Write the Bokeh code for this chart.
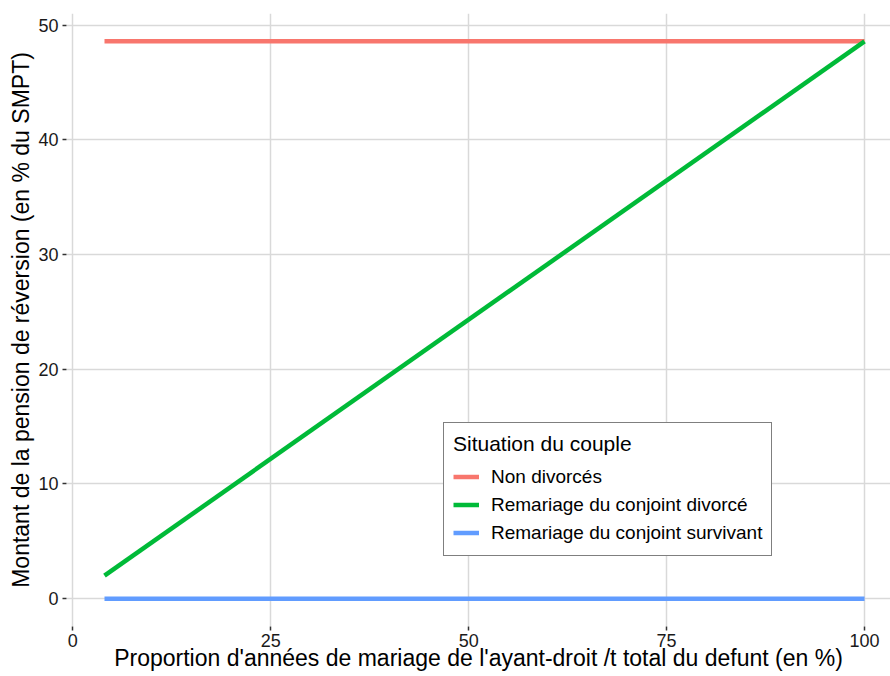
from bokeh.plotting import figure
from bokeh.models import ColumnDataSource, Legend, LegendItem, FixedTicker, Range1d
from bokeh.embed import file_html
from bokeh.resources import INLINE

# Data
proportion = [4, 100]
non_divorces = [48.6, 48.6]
remariage_divorce = [2.0, 48.6]
remariage_survivant = [0.0, 0.0]
series_names = ["Non divorcés", "Remariage du conjoint divorcé", "Remariage du conjoint survivant"]
series_colors = ["#F8766D", "#00BA38", "#619CFF"]
x_ticks = [0, 25, 50, 75, 100]
y_ticks = [0, 10, 20, 30, 40, 50]

FONT = "Liberation Sans"

p = figure(width=890, height=676, output_backend="svg", toolbar_location=None,
           x_range=Range1d(-0.8, 103.28), y_range=Range1d(-2.43, 51.03),
           min_border_left=66, min_border_top=13, min_border_right=0, min_border_bottom=50)
p.outline_line_color = None
p.background_fill_color = "white"

for ax, ticks in ((p.xaxis[0], x_ticks), (p.yaxis[0], y_ticks)):
    ax.ticker = FixedTicker(ticks=ticks)
    ax.axis_line_color = None
    ax.major_tick_line_color = "#333333"
    ax.major_tick_line_width = 1.5
    ax.major_tick_out = 4
    ax.major_tick_in = 0
    ax.minor_tick_line_color = None
    ax.major_label_text_font = FONT
    ax.major_label_text_font_size = "18px"
    ax.major_label_text_color = "#1A1A1A"
    ax.axis_label_text_font = FONT
    ax.axis_label_text_font_size = "23px"
    ax.axis_label_text_font_style = "normal"
    ax.axis_label_text_color = "black"

p.xaxis.axis_label = "Proportion d'années de mariage de l'ayant-droit /t total du defunt (en %)"
p.yaxis.axis_label = "Montant de la pension de réversion (en % du SMPT)"
p.xaxis.axis_label_standoff = -5
p.yaxis.axis_label_standoff = 1
p.xaxis.major_label_standoff = 3
p.yaxis.major_label_standoff = 4

for g in (p.xgrid[0], p.ygrid[0]):
    g.grid_line_color = "#D9D9D9"
    g.grid_line_width = 1.5
p.xgrid.ticker = FixedTicker(ticks=x_ticks)
p.ygrid.ticker = FixedTicker(ticks=y_ticks)

src = ColumnDataSource(dict(x=proportion, a=non_divorces, b=remariage_divorce, c=remariage_survivant))
bg = p.rect(x=[], y=[], width=[], height=[], fill_color="#EBEBEB", line_color=None)
lines = []
for col, color in zip(["a", "b", "c"], series_colors):
    r = p.line("x", col, source=src, line_color=color, line_width=4.5)
    lines.append(r)

items = [LegendItem(label=n, renderers=[bg, r]) for n, r in zip(series_names, lines)]
legend = Legend(items=items, location=(377, 70))
legend.title = "Situation du couple"
legend.title_text_font = FONT
legend.title_text_font_size = "21px"
legend.title_text_font_style = "normal"
legend.title_text_color = "black"
legend.title_standoff = 7
legend.label_text_font = FONT
legend.label_text_font_size = "19px"
legend.label_text_color = "black"
legend.glyph_width = 26
legend.glyph_height = 27
legend.label_height = 27
legend.spacing = 1
legend.padding = 9
legend.margin = 0
legend.label_standoff = 12
legend.border_line_color = "black"
legend.border_line_width = 1.5
legend.background_fill_color = "white"
legend.background_fill_alpha = 1
p.add_layout(legend, "center")

open("out.html", "w").write(file_html(p, INLINE))
